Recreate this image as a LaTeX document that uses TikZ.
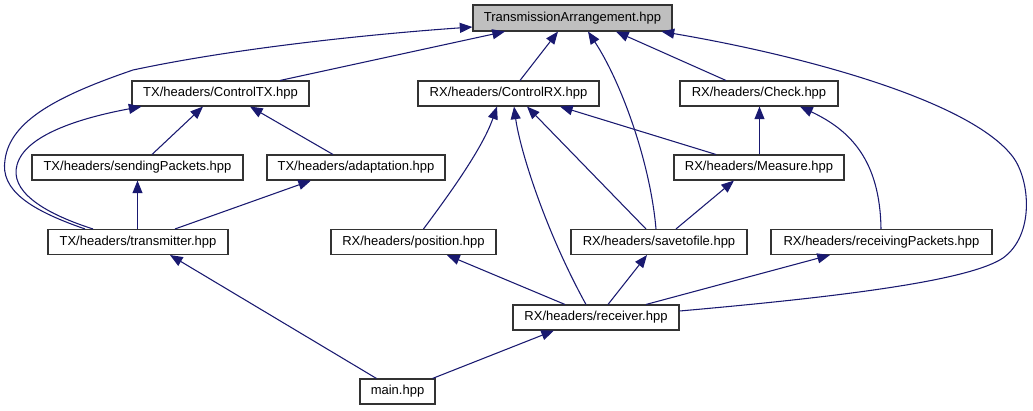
\documentclass[tikz,border=0pt]{standalone}
\usepackage{fontspec}
\setmainfont{Liberation Sans}
\usetikzlibrary{arrows.meta, calc}
\definecolor{cedge}{HTML}{191970}
\definecolor{cborder}{HTML}{333333}
\definecolor{croot}{HTML}{BFBFBF}
\tikzset{
  every picture/.style={x=0.75pt, y=-0.75pt, font=\fontsize{9.75}{11}\selectfont},
  file/.style={draw=cborder, fill=white, line width=0.8pt, inner sep=0pt, minimum height=25*0.75pt, minimum width=#1*0.75pt},
  rootfile/.style={file=#1, fill=croot},
  incl/.style={-{Triangle[length=9.5pt, width=7.5pt]}, draw=cedge, line width=0.8pt},
}
\begin{document}
\begin{tikzpicture}
  \useasboundingbox (0,0) rectangle (1033,411);
  \node[rootfile=199, minimum height=26*0.75pt] (ta) at (572.5,18) {TransmissionArrangement.hpp};
  \node[file=177] (ctx) at (220.5,93.5) {TX/headers/ControlTX.hpp};
  \node[file=181] (crx) at (508.5,93.5) {RX/headers/ControlRX.hpp};
  \node[file=158] (check) at (759,93.5) {RX/headers/Check.hpp};
  \node[file=211] (sendp) at (137.5,167.5) {TX/headers/sendingPackets.hpp};
  \node[file=178] (adapt) at (356,167.5) {TX/headers/adaptation.hpp};
  \node[file=170] (measure) at (759,167.5) {RX/headers/Measure.hpp};
  \node[file=180] (trans) at (138,242) {TX/headers/transmitter.hpp};
  \node[file=165] (pos) at (413.5,242) {RX/headers/position.hpp};
  \node[file=176] (save) at (659,242) {RX/headers/savetofile.hpp};
  \node[file=221] (recvp) at (881.5,242) {RX/headers/receivingPackets.hpp};
  \node[file=166] (recv) at (596,317.5) {RX/headers/receiver.hpp};
  \node[file=75] (mainf) at (397.5,391.5) {main.hpp};
  % includes of TransmissionArrangement.hpp
  \draw[incl] ($(ctx.north)+(59.5,0)$) -- ($(ta.south)+(-67.5,0)$);
  \draw[incl] ($(trans.north)+(-53,0)$) .. controls (30,210) and (0,190) .. (5,160)
    .. controls (10,120) and (60,95) .. (133,70) .. controls (250,45) and (400,32) .. ($(ta.west)+(0,9)$);
  \draw[incl] ($(crx.north)+(11.5,0)$) -- ($(ta.south)+(-14.5,0)$);
  \draw[incl] ($(save.north)+(-3,0)$) .. controls (650,160) and (620,80) .. ($(ta.south)+(15.5,0)$);
  \draw[incl] ($(check.north)+(-33,0)$) -- ($(ta.south)+(43.5,0)$);
  \draw[incl] ($(recv.east)+(0,-6.5)$) .. controls (850,296) and (970,280) .. (1003,258)
    .. controls (1035,235) and (1030,180) .. (1013,157) .. controls (970,100) and (800,55) .. ($(ta.south east)+(-11,0)$);
  % TX side
  \draw[incl] ($(trans.north)+(-45,0)$) .. controls (40,212) and (10,190) .. (17,165)
    .. controls (25,135) and (80,118) .. ($(ctx.south)+(-79,0)$);
  \draw[incl] ($(sendp.north)+(14.5,0)$) -- ($(ctx.south)+(-17.5,0)$);
  \draw[incl] ($(adapt.north)+(-23,0)$) -- ($(ctx.south)+(29.5,0)$);
  \draw[incl] ($(trans.north)+(-0.5,0)$) -- (sendp.south);
  \draw[incl] ($(trans.north)+(37,0)$) -- ($(adapt.south)+(-45,0)$);
  % RX side
  \draw[incl] ($(measure.north)+(-43,0)$) -- ($(crx.south)+(51.5,0)$);
  \draw[incl] ($(save.north)+(-13,0)$) -- ($(crx.south)+(18.5,0)$);
  \draw[incl] ($(pos.north)+(10,0)$) .. controls (445,200) and (482,150) .. ($(crx.south)+(-11.5,0)$);
  \draw[incl] ($(recv.north)+(-10,0)$) .. controls (545,230) and (520,150) .. ($(crx.south)+(5.5,0)$);
  \draw[incl] ($(measure.north)+(0.5,0)$) -- ($(check.south)+(0.5,0)$);
  \draw[incl] ($(recvp.north)+(-0.5,0)$) .. controls (880,160) and (850,130) .. ($(check.south)+(41,0)$);
  \draw[incl] ($(save.north)+(17,0)$) -- ($(measure.south)+(-25,0)$);
  \draw[incl] ($(recv.north)+(12,0)$) -- ($(save.south)+(-12,0)$);
  \draw[incl] ($(recv.north)+(-31,0)$) -- ($(pos.south)+(33.5,0)$);
  \draw[incl] ($(recv.north)+(50,0)$) -- ($(recvp.south)+(-51.5,0)$);
  % main.hpp
  \draw[incl] ($(mainf.north)+(35,0)$) -- ($(recv.south)+(-42,0)$);
  \draw[incl] ($(mainf.north)+(-21,0)$) -- ($(trans.south)+(32,0)$);
\end{tikzpicture}
\end{document}
